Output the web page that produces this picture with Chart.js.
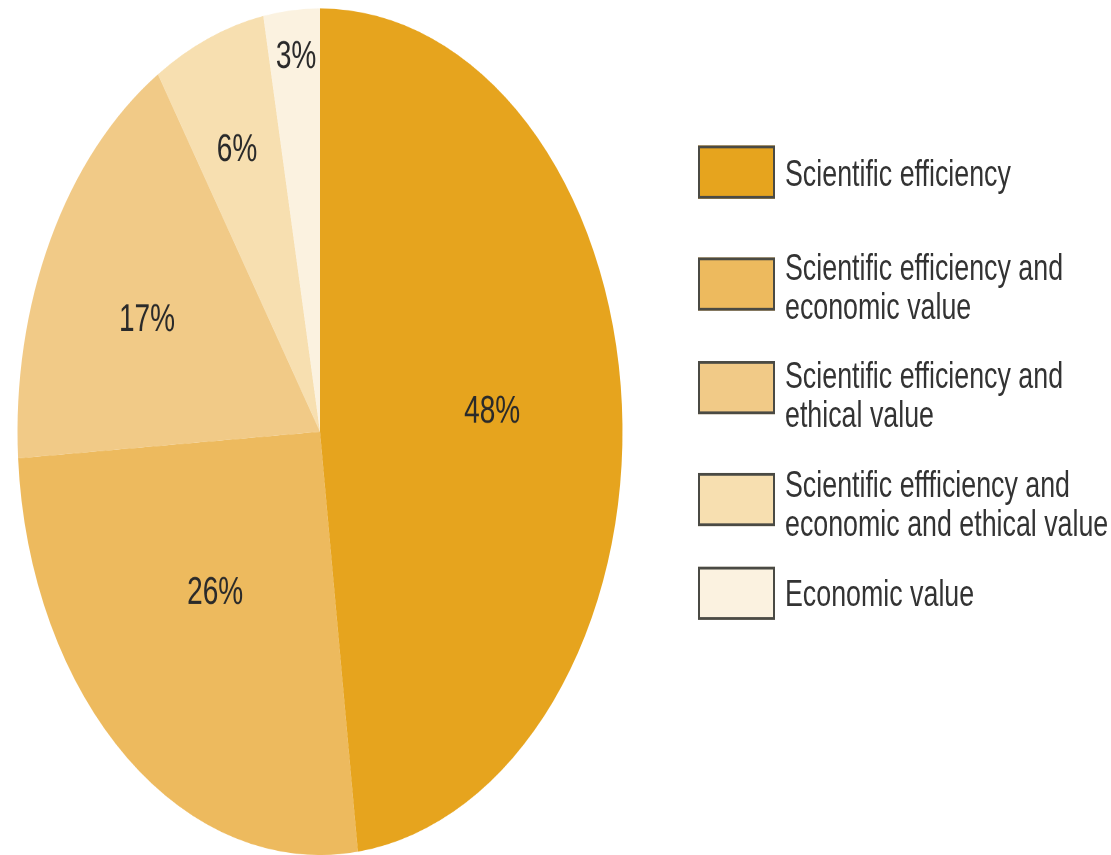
<!DOCTYPE html>
<html>
<head>
<meta charset="utf-8">
<script src="https://cdn.jsdelivr.net/npm/chart.js@4/dist/chart.umd.min.js"></script>
<style>
  html, body { margin: 0; padding: 0; background: #ffffff; overflow: hidden; }
  #stage { position: absolute; left: 0; top: 0; width: 1111px; height: 611px; transform: scaleY(1.3993); transform-origin: 0 0; }
  #pieWrap { position: absolute; left: 0; top: 0; width: 640px; height: 611px; }
  .lgBox { position: absolute; left: 698px; width: 73px; height: 34px; border: 2px solid #4a4a44; }
  .lgText { position: absolute; left: 785px; font-family: "Liberation Sans", Arial, sans-serif; font-size: 26.8px; line-height: 28px; color: #333333; white-space: nowrap; }
</style>
</head>
<body>
<div id="stage">
  <div id="pieWrap"><canvas id="pie" width="640" height="611"></canvas></div>
  <div id="legend"></div>
</div>
<script>
const categories = [
  "Scientific efficiency",
  "Scientific efficiency and economic value",
  "Scientific efficiency and ethical value",
  "Scientific effficiency and economic and ethical value",
  "Economic value"
];
const legendLines = [
  ["Scientific efficiency"],
  ["Scientific efficiency and", "economic value"],
  ["Scientific efficiency and", "ethical value"],
  ["Scientific effficiency and", "economic and ethical value"],
  ["Economic value"]
];
const shares = [48, 26, 17, 6, 3];
const valueLabels = ["48%", "26%", "17%", "6%", "3%"];
const sliceColors = ["#E6A41E", "#EDBA5E", "#F1CA87", "#F7DFB0", "#FBF2E0"];

// layout (not data)
const labelRadiusFrac = [0.571, 0.515, 0.63, 0.72, 0.889];
const labelAngleShiftDeg = [-1.1, 2.7, -2.2, -0.8, 0.3];
const legendBoxTops = [104, 184, 258, 338, 405];
const legendTextTops = [110, 177, 254, 332, 410];

const legend = document.getElementById('legend');
categories.forEach((c, i) => {
  const b = document.createElement('div');
  b.className = 'lgBox';
  b.style.top = legendBoxTops[i] + 'px';
  b.style.background = sliceColors[i];
  legend.appendChild(b);
  const t = document.createElement('div');
  t.className = 'lgText';
  t.style.top = legendTextTops[i] + 'px';
  t.innerHTML = legendLines[i].join('<br>');
  legend.appendChild(t);
});

const sliceLabels = {
  id: 'sliceLabels',
  afterDatasetsDraw(chart, args, opts) {
    const ctx = chart.ctx;
    const meta = chart.getDatasetMeta(0);
    ctx.save();
    ctx.font = '28px "Liberation Sans", Arial, sans-serif';
    ctx.fillStyle = '#2a2a2a';
    ctx.textAlign = 'center';
    ctx.textBaseline = 'middle';
    meta.data.forEach((arc, i) => {
      const p = arc.getProps(['x', 'y', 'startAngle', 'endAngle', 'outerRadius'], true);
      const mid = (p.startAngle + p.endAngle) / 2 + opts.shift[i] * Math.PI / 180;
      const r = p.outerRadius * opts.radius[i];
      ctx.fillText(valueLabels[i], p.x + Math.cos(mid) * r, p.y + Math.sin(mid) * r);
    });
    ctx.restore();
  }
};

new Chart(document.getElementById('pie'), {
  type: 'pie',
  data: {
    labels: categories,
    datasets: [{
      data: shares,
      backgroundColor: sliceColors,
      borderWidth: 0,
      hoverOffset: 0
    }]
  },
  options: {
    responsive: false,
    animation: false,
    devicePixelRatio: 2,
    layout: { padding: { top: 6, bottom: 0, left: 0, right: 0 } },
    plugins: {
      legend: { display: false },
      tooltip: { enabled: false },
      sliceLabels: { radius: labelRadiusFrac, shift: labelAngleShiftDeg }
    }
  },
  plugins: [sliceLabels]
});
</script>
</body>
</html>
